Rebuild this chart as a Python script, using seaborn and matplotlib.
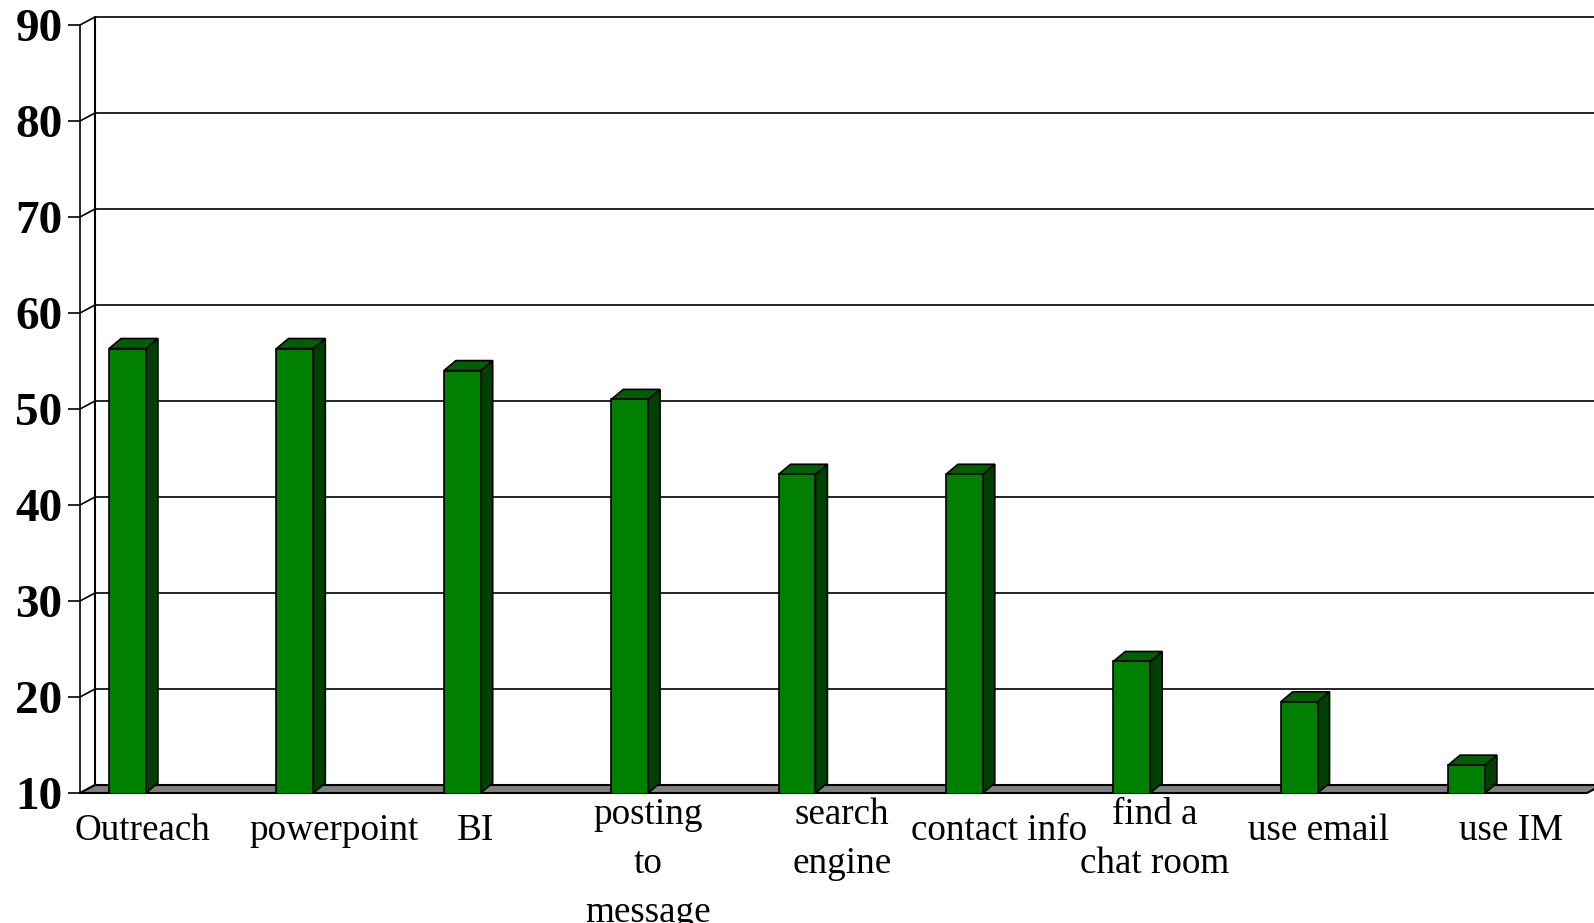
import matplotlib
matplotlib.use("Agg")
import matplotlib.pyplot as plt
import seaborn as sns
import pandas as pd
from matplotlib.patches import Polygon
from matplotlib.lines import Line2D
from matplotlib.transforms import IdentityTransform, offset_copy

# values
categories = ["Outreach", "powerpoint", "BI", "posting\nto\nmessage", "search\nengine",
              "contact info", "find a\nchat room", "use email", "use IM"]
values = [56.3, 56.3, 54.0, 51.0, 43.2, 43.2, 23.7, 19.5, 12.9]
y_ticks = [10, 20, 30, 40, 50, 60, 70, 80, 90]

FRONT = "#008000"
SIDE = "#004000"
TOP = "#006000"
FLOOR = "#808080"

# horizontal nudge (pixels) of each category label, as in the original layout
label_nudge = [15, 39, 13, 18, 45, 35, 23, 19, 45]

sns.set_theme(style="white")
plt.rcParams["font.family"] = ["Liberation Serif", "DejaVu Serif"]

W, H = 1594, 923
fig = plt.figure(figsize=(W / 100, H / 100), dpi=100)
fig.patch.set_facecolor("white")
ax = fig.add_axes([80 / W, (H - 793) / H, (1587 - 80) / W, (793 - 25) / H])
ax.patch.set_alpha(0)

df = pd.DataFrame({"label": categories, "value": values})
sns.barplot(data=df, x="label", y="value", color=FRONT, saturation=1, width=0.22,
            edgecolor="black", linewidth=1.2, ax=ax, zorder=5)

ax.set_xlim(-0.284, 8.72)
ax.set_ylim(10, 90)
ax.set_xticks([])
ax.set_xlabel("")
ax.set_ylabel("")
ax.set_yticks(y_ticks)
ax.set_yticklabels([str(t) for t in y_ticks], fontsize=34, fontweight="bold")
ax.tick_params(axis="y", left=True, length=8.6, width=1.2, pad=4, colors="black")
for s in ["top", "right", "bottom"]:
    ax.spines[s].set_visible(False)
ax.spines["left"].set_color("black")
ax.spines["left"].set_linewidth(1.2)
ax.spines["left"].set_zorder(6)

# pseudo-3D: back wall offset and bar depth in pixels
wdx, wdy = 15, 8
bdx, bdy = 12, 10
ident = IdentityTransform()


def px(x, y):
    return ax.transData.transform((x, y))


xl0, xl1 = ax.get_xlim()

# back wall gridlines with small connectors to the front axis
for v in y_ticks:
    fx, fy = px(xl0, v)
    ax.add_line(Line2D([fx, fx + wdx, W + 50], [fy, fy + wdy, fy + wdy], color="black",
                       lw=1.2, transform=ident, clip_on=False, zorder=1))
bx, by0 = px(xl0, 10)
_, by1 = px(xl0, 90)
ax.add_line(Line2D([bx + wdx, bx + wdx], [by0 + wdy, by1 + wdy], color="black", lw=1.5,
                   transform=ident, clip_on=False, zorder=1))

# floor
fl, fy = px(xl0, 10)
fr, _ = px(xl1, 10)
ax.add_patch(Polygon([(fl, fy), (fr, fy), (fr + wdx, fy + wdy), (fl + wdx, fy + wdy)],
                     closed=True, facecolor=FLOOR, edgecolor="black", lw=1.5,
                     transform=ident, clip_on=False, zorder=2))

# side and top faces of each bar
for p in list(ax.patches):
    if p.get_facecolor()[:3] == matplotlib.colors.to_rgb(FLOOR):
        continue
    x0 = p.get_x()
    x1 = x0 + p.get_width()
    top = p.get_y() + p.get_height()
    ax0, ay = px(x0, top)
    ax1, _ = px(x1, top)
    _, ab = px(x1, 10)
    ax.add_patch(Polygon([(ax1, ab), (ax1, ay), (ax1 + bdx, ay + bdy), (ax1 + bdx, ab + bdy)],
                         closed=True, facecolor=SIDE, edgecolor="black", lw=1.2,
                         transform=ident, clip_on=False, zorder=4))
    ax.add_patch(Polygon([(ax0, ay), (ax1, ay), (ax1 + bdx, ay + bdy), (ax0 + bdx, ay + bdy)],
                         closed=True, facecolor=TOP, edgecolor="black", lw=1.2,
                         transform=ident, clip_on=False, zorder=4))

# category labels below the floor
for i, lab in enumerate(categories):
    n = lab.count("\n") + 1
    tr = offset_copy(ax.get_xaxis_transform(), fig=fig, x=label_nudge[i],
                     y=-(4 if n > 1 else 21), units="dots")
    ax.text(i, 0, lab, transform=tr, ha="center", va="top", multialignment="center",
            fontsize=26.7, linespacing=1.55, color="black", clip_on=False)

fig.savefig("out.png", dpi=100, facecolor="white")
